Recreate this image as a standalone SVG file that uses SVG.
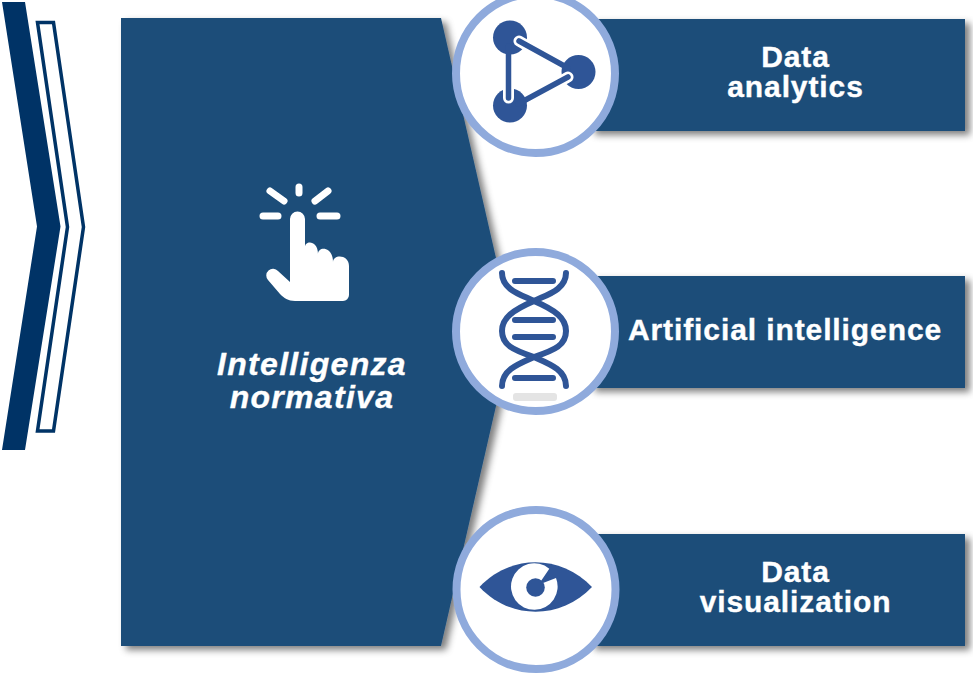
<svg xmlns="http://www.w3.org/2000/svg" width="973" height="678" viewBox="0 0 973 678">
<style>
.panel{fill:#1f4e79}
.ring{fill:#fff;stroke:#8faadc;stroke-width:8}
.ic{fill:#2f5597}
.icl{fill:none;stroke:#2f5597;stroke-width:6;stroke-linecap:round}
.wh{fill:none;stroke:#fff;stroke-linecap:round}
.hl{fill:none;stroke:#fff;stroke-width:11;stroke-linecap:round}
.bl{fill:none;stroke:#2f5597;stroke-width:5.500;stroke-linecap:round}
text{font-family:"Liberation Sans",Arial,sans-serif;font-weight:700;fill:#fff;stroke:#fff;stroke-width:.35px;font-size:30px;letter-spacing:.9px;text-anchor:middle}
text.it{font-style:italic;font-size:32px;letter-spacing:1.3px}
</style>
<defs>
<filter id="sh" x="-10%" y="-10%" width="125%" height="125%"><feGaussianBlur in="SourceAlpha" stdDeviation="3.500"/><feOffset dx="5" dy="4"/><feColorMatrix values="0 0 0 0 0 0 0 0 0 0 0 0 0 0 0 0 0 0 .5 0"/><feMerge><feMergeNode/><feMergeNode in="SourceGraphic"/></feMerge></filter>
</defs>
<g id="chevrons">
<path d="M2 2H25L60.500 226.500L25 450H2L37 226.500Z" fill="#003366"/>
<path d="M37.500 22.500H53.500L83.500 227L53.500 431H37.500L67.500 227Z" fill="#fff" stroke="#003366" stroke-width="3.500"/>
</g>
<g id="connectors"></g>
<g id="main-node">
<path class="panel" filter="url(#sh)" d="M121 18H441L513 332L441 646H121Z"/>
<g id="hand-icon">
<path fill="#fff" d="M290 219a7.500 7.500 0 0 1 15 0V247C305 240 318 240 318 254C318 246 333 246 333 262C333 254 349 254 349 266V295a6 6 0 0 1-6 6H295C288 301 284 298 280 294L268 280a6.500 6.500 0 0 1 10-9L290 282Z"/>
<path class="wh" stroke-width="7" d="M299 187V193M270 191L284 201M328 191L315 201M263 216H278M320 216H337"/>
</g>
<text class="it"><tspan x="312" y="375">Intelligenza</tspan><tspan x="312" y="408">normativa</tspan></text>
</g>
<g id="node-analytics">
<rect class="panel" filter="url(#sh)" x="590" y="19" width="375" height="112"/>
<text><tspan x="795.500" y="67">Data</tspan><tspan x="795.500" y="97">analytics</tspan></text>
<circle class="ring" cx="535.500" cy="73.500" r="79.500"/>
<circle class="ic" cx="510" cy="37.500" r="17"/><circle class="ic" cx="578.500" cy="72" r="17"/><circle class="ic" cx="510" cy="105.500" r="17"/>
<path class="hl" d="M519 41L531 48M568 77L556 84M508.500 98V87"/>
<path class="bl" d="M519 41L568 68M568 77L518 104M508.500 98V46"/>
</g>
<g id="node-ai">
<rect class="panel" filter="url(#sh)" x="590" y="276" width="375" height="112"/>
<text x="785" y="340">Artificial intelligence</text>
<circle class="ring" cx="535.500" cy="331.500" r="79.500"/>
<path class="icl" d="M502 273C502 290 522 295 534 301C555 310 566 318 566 331C566 345 555 350 534 357C518 364 502 370 502 386"/>
<path class="icl" d="M566 273C566 290 546 295 534 301C513 310 502 318 502 331C502 345 513 350 534 357C550 364 566 370 566 386"/>
<path class="icl" d="M515 281H553M515 320H553M515 337H553M515 378H553"/>
<rect x="513" y="393" width="44" height="8" rx="3" fill="#e4e4e4"/>
</g>
<g id="node-visualization">
<rect class="panel" filter="url(#sh)" x="590" y="534" width="375" height="112"/>
<text><tspan x="795.500" y="582">Data</tspan><tspan x="795.500" y="612">visualization</tspan></text>
<circle class="ring" cx="536" cy="589.500" r="79.500"/>
<path class="ic" d="M479.500 587C510 554 561 554 592 587C561 620 510 620 479.500 587Z"/>
<path fill="#fff" d="M549.300 568.700A23.300 23.300 0 1 0 556 578L543 583L541 581Z"/>
<circle class="ic" cx="535.500" cy="587.500" r="9.300"/>
</g>
</svg>
